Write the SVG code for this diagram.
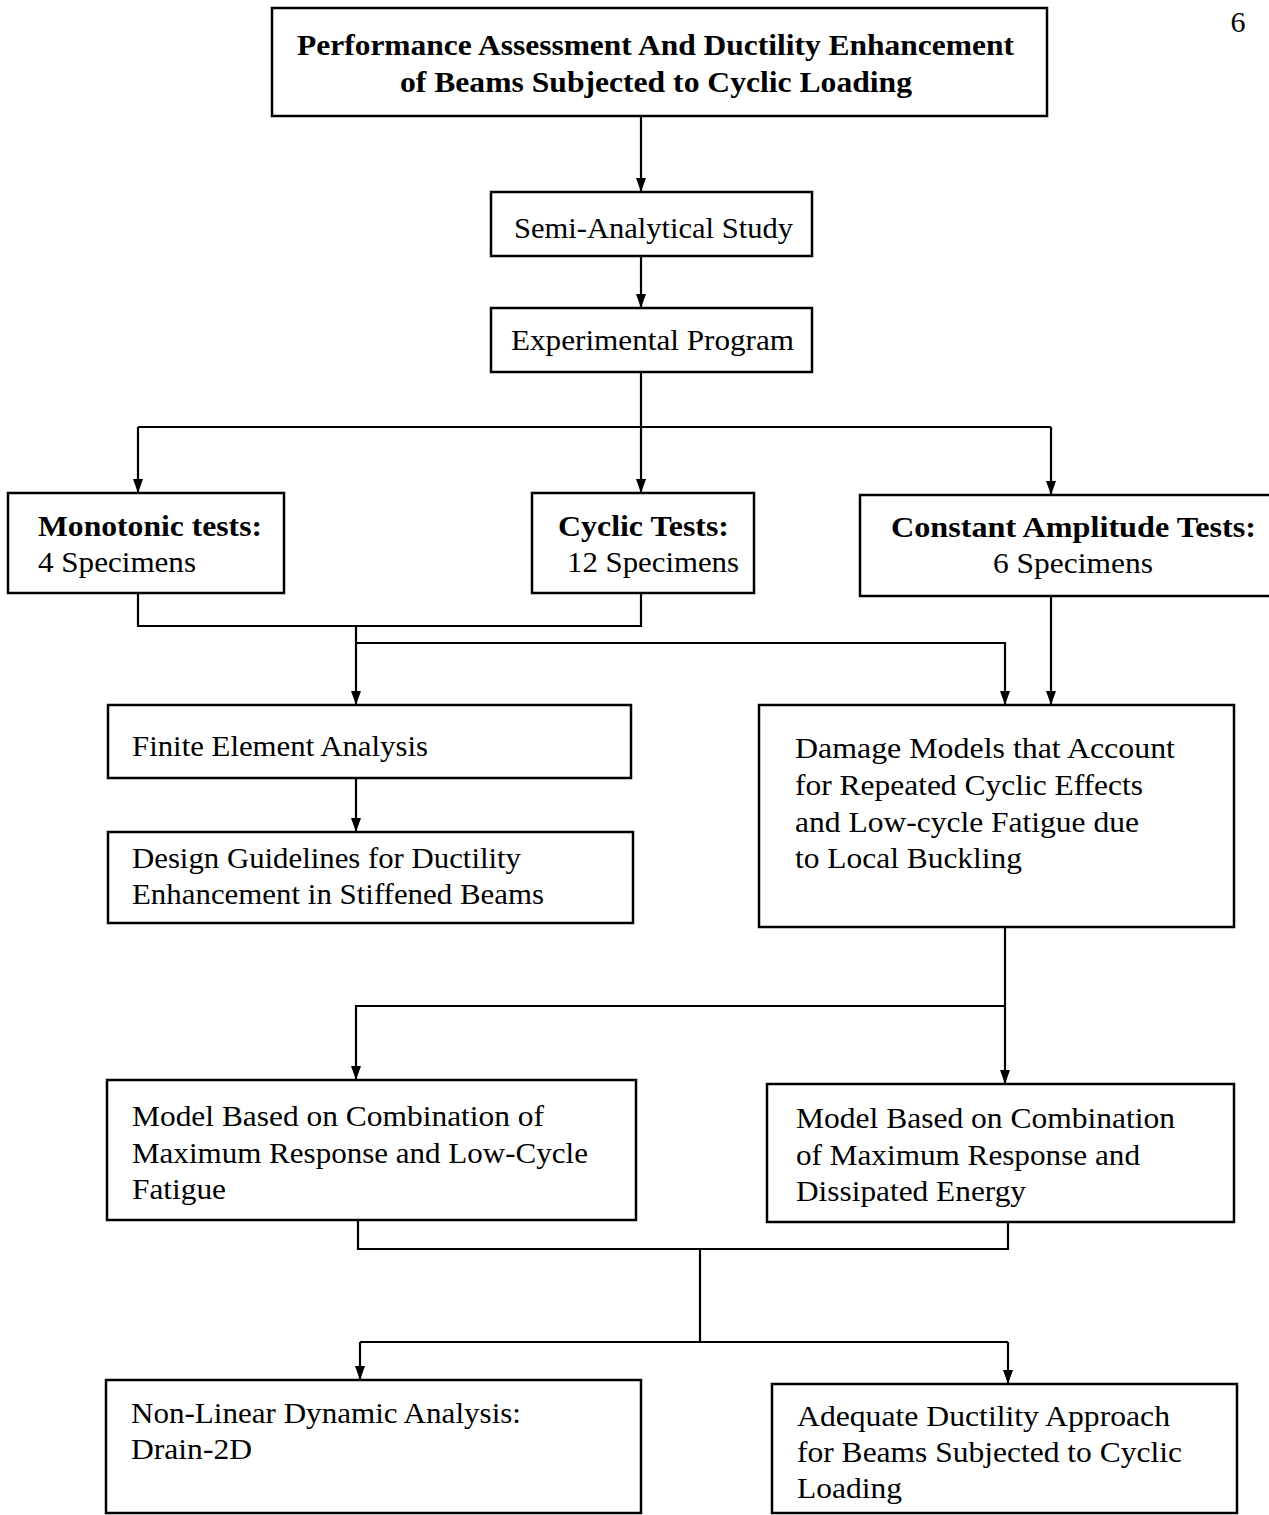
<svg xmlns="http://www.w3.org/2000/svg" width="1269" height="1515" viewBox="0 0 1269 1515">
<style>
.box{fill:#fff;stroke:#000;stroke-width:2.5}
.t{font-family:"Liberation Serif","Times New Roman",serif;font-size:30px;fill:#000}
.b{font-weight:bold}
.c{fill:none;stroke:#000;stroke-width:2.2}
</style>
<defs>
<marker id="ah" markerUnits="userSpaceOnUse" markerWidth="12" markerHeight="14" refX="5" refY="13" orient="auto-start-reverse" viewBox="0 0 10 14">
<path d="M0,0 L10,0 L5,13 Z" fill="#000" transform="rotate(0)"/>
</marker>
<marker id="dn" markerUnits="userSpaceOnUse" markerWidth="10" markerHeight="14" refX="5" refY="14" viewBox="0 0 10 14" orient="0">
<path d="M0,0 L10,0 L5,14 Z" fill="#000"/>
</marker>
</defs>
<rect width="1269" height="1515" fill="#fff"/>
<text class="t" x="1238" y="32" font-size="28" text-anchor="middle">6</text>
<g id="connectors">
<path class="c" d="M641,116 V192" marker-end="url(#dn)"/>
<path class="c" d="M641,256 V308" marker-end="url(#dn)"/>
<path class="c" d="M641,372 V493" marker-end="url(#dn)"/>
<path class="c" d="M138,427 H1051"/>
<path class="c" d="M138,427 V493" marker-end="url(#dn)"/>
<path class="c" d="M1051,427 V495" marker-end="url(#dn)"/>
<path class="c" d="M138,593 V626 H641 V593"/>
<path class="c" d="M356,626 V705" marker-end="url(#dn)"/>
<path class="c" d="M356,643 H1005 V705" marker-end="url(#dn)"/>
<path class="c" d="M1051,596 V705" marker-end="url(#dn)"/>
<path class="c" d="M356,778 V832" marker-end="url(#dn)"/>
<path class="c" d="M1005,927 V1084" marker-end="url(#dn)"/>
<path class="c" d="M1005,1006 H356 V1080" marker-end="url(#dn)"/>
<path class="c" d="M358,1220 V1249 H1008 V1222"/>
<path class="c" d="M700,1249 V1342"/>
<path class="c" d="M360,1342 H1008"/>
<path class="c" d="M360,1342 V1380" marker-end="url(#dn)"/>
<path class="c" d="M1008,1342 V1384" marker-end="url(#dn)"/>
</g>
<g id="title">
<rect class="box" x="272" y="8" width="775" height="108"/>
<text class="t b" x="297" y="55" textLength="717" lengthAdjust="spacingAndGlyphs">Performance Assessment And Ductility Enhancement</text>
<text class="t b" x="400" y="92" textLength="512" lengthAdjust="spacingAndGlyphs">of Beams Subjected to Cyclic Loading</text>
</g>
<g id="semi">
<rect class="box" x="491" y="192" width="321" height="64"/>
<text class="t" x="514" y="238" textLength="279" lengthAdjust="spacingAndGlyphs">Semi-Analytical Study</text>
</g>
<g id="experimental">
<rect class="box" x="491" y="308" width="321" height="64"/>
<text class="t" x="511" y="350" textLength="283" lengthAdjust="spacingAndGlyphs">Experimental Program</text>
</g>
<g id="monotonic">
<rect class="box" x="8" y="493" width="276" height="100"/>
<text class="t b" x="38" y="536" textLength="224" lengthAdjust="spacingAndGlyphs">Monotonic tests:</text>
<text class="t" x="38" y="572" textLength="158" lengthAdjust="spacingAndGlyphs">4 Specimens</text>
</g>
<g id="cyclic">
<rect class="box" x="532" y="493" width="222" height="100"/>
<text class="t b" x="558" y="536" textLength="171" lengthAdjust="spacingAndGlyphs">Cyclic Tests:</text>
<text class="t" x="567" y="572" textLength="172" lengthAdjust="spacingAndGlyphs">12 Specimens</text>
</g>
<g id="constant">
<rect class="box" x="860" y="495" width="415" height="101"/>
<text class="t b" x="891" y="537" textLength="365" lengthAdjust="spacingAndGlyphs">Constant Amplitude Tests:</text>
<text class="t" x="993" y="573" textLength="160" lengthAdjust="spacingAndGlyphs">6 Specimens</text>
</g>
<g id="fea">
<rect class="box" x="108" y="705" width="523" height="73"/>
<text class="t" x="132" y="756" textLength="296" lengthAdjust="spacingAndGlyphs">Finite Element Analysis</text>
</g>
<g id="design">
<rect class="box" x="108" y="832" width="525" height="91"/>
<text class="t" x="132" y="868" textLength="389" lengthAdjust="spacingAndGlyphs">Design Guidelines for Ductility</text>
<text class="t" x="132" y="904" textLength="412" lengthAdjust="spacingAndGlyphs">Enhancement in Stiffened Beams</text>
</g>
<g id="damage">
<rect class="box" x="759" y="705" width="475" height="222"/>
<text class="t" x="795" y="758" textLength="380" lengthAdjust="spacingAndGlyphs">Damage Models that Account</text>
<text class="t" x="795" y="795" textLength="348" lengthAdjust="spacingAndGlyphs">for Repeated Cyclic Effects</text>
<text class="t" x="795" y="832" textLength="344" lengthAdjust="spacingAndGlyphs">and Low-cycle Fatigue due</text>
<text class="t" x="795" y="868" textLength="227" lengthAdjust="spacingAndGlyphs">to Local Buckling</text>
</g>
<g id="model-lcf">
<rect class="box" x="107" y="1080" width="529" height="140"/>
<text class="t" x="132" y="1126" textLength="412" lengthAdjust="spacingAndGlyphs">Model Based on Combination of</text>
<text class="t" x="132" y="1163" textLength="456" lengthAdjust="spacingAndGlyphs">Maximum Response and Low-Cycle</text>
<text class="t" x="132" y="1199" textLength="94" lengthAdjust="spacingAndGlyphs">Fatigue</text>
</g>
<g id="model-energy">
<rect class="box" x="767" y="1084" width="467" height="138"/>
<text class="t" x="796" y="1128" textLength="379" lengthAdjust="spacingAndGlyphs">Model Based on Combination</text>
<text class="t" x="796" y="1165" textLength="344" lengthAdjust="spacingAndGlyphs">of Maximum Response and</text>
<text class="t" x="796" y="1201" textLength="230" lengthAdjust="spacingAndGlyphs">Dissipated Energy</text>
</g>
<g id="nonlinear">
<rect class="box" x="106" y="1380" width="535" height="133"/>
<text class="t" x="131" y="1423" textLength="390" lengthAdjust="spacingAndGlyphs">Non-Linear Dynamic Analysis:</text>
<text class="t" x="131" y="1459" textLength="121" lengthAdjust="spacingAndGlyphs">Drain-2D</text>
</g>
<g id="adequate">
<rect class="box" x="772" y="1384" width="465" height="129"/>
<text class="t" x="797" y="1426" textLength="373" lengthAdjust="spacingAndGlyphs">Adequate Ductility Approach</text>
<text class="t" x="797" y="1462" textLength="385" lengthAdjust="spacingAndGlyphs">for Beams Subjected to Cyclic</text>
<text class="t" x="797" y="1498" textLength="105" lengthAdjust="spacingAndGlyphs">Loading</text>
</g>
</svg>
